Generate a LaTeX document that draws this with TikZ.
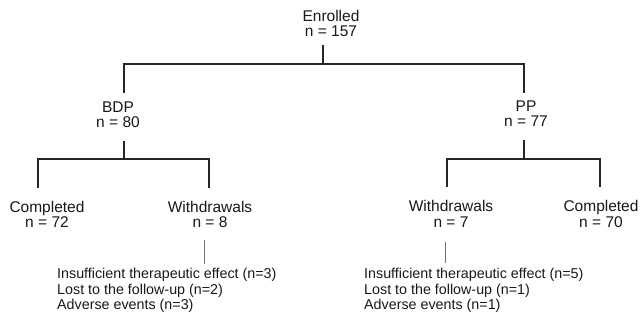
\documentclass[tikz,border=0pt]{standalone}
\usepackage{fontspec}
\setmainfont{Liberation Sans}
\begin{document}
\begin{tikzpicture}[x=1pt,y=-1pt,
  lbl/.style={font=\fontsize{15.5}{15.5}\selectfont, align=center, inner sep=0pt, anchor=north, text=black!90},
  lst/.style={font=\fontsize{14.3}{15.5}\selectfont, align=left, inner sep=0pt, anchor=north west, text=black!90},
  tree/.style={line width=1.3pt, draw=black!85},
  thinline/.style={line width=0.6pt, draw=black!55}]
\useasboundingbox (0,0) rectangle (642,324);
\fill[white] (0,0) rectangle (642,324);

% nodes
\node[lbl] (enr) at (331,10) {Enrolled\\n = 157};
\node[lbl] (bdp) at (118,101.5) {BDP\\n = 80};
\node[lbl] (pp) at (526,100.5) {PP\\n = 77};
\node[lbl] (compB) at (47,201) {Completed\\n = 72};
\node[lbl] (withB) at (210,201) {Withdrawals\\n = 8};
\node[lbl] (withP) at (451,200.5) {Withdrawals\\n = 7};
\node[lbl] (compP) at (601,200.5) {Completed\\n = 70};
\node[lst] (listB) at (57,268) {Insufficient therapeutic effect (n=3)\\Lost to the follow-up (n=2)\\Adverse events (n=3)};
\node[lst] (listP) at (364,268) {Insufficient therapeutic effect (n=5)\\Lost to the follow-up (n=1)\\Adverse events (n=1)};

% connector points
\coordinate (e0) at (323,45);
\coordinate (e1) at (323,64);
\coordinate (bTop) at (124,93);
\coordinate (pTop) at (524,93);
\coordinate (b0) at (124,141);
\coordinate (b1) at (124,159);
\coordinate (cbTop) at (38,188);
\coordinate (wbTop) at (209,188);
\coordinate (p0) at (524,140);
\coordinate (p1) at (524,159);
\coordinate (wpTop) at (447,187);
\coordinate (cpTop) at (600,187);
\coordinate (wb0) at (204,240);
\coordinate (wb1) at (204,264);
\coordinate (wp0) at (445,242);
\coordinate (wp1) at (445,263);

% connectors
\draw[tree] (e0) -- (e1);
\draw[tree] (bTop) |- (e1) -| (pTop);
\draw[tree] (b0) -- (b1);
\draw[tree] (cbTop) |- (b1) -| (wbTop);
\draw[tree] (p0) -- (p1);
\draw[tree] (wpTop) |- (p1) -| (cpTop);
\draw[thinline] (wb0) -- (wb1);
\draw[thinline] (wp0) -- (wp1);
\end{tikzpicture}
\end{document}
